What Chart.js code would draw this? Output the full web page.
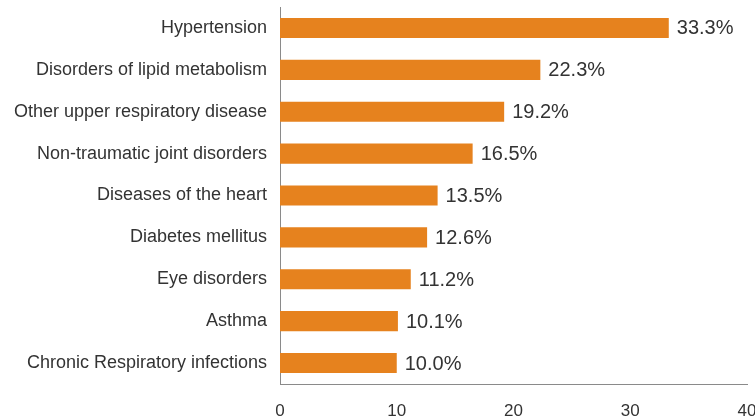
<!DOCTYPE html>
<html>
<head>
<meta charset="utf-8">
<script src="https://cdn.jsdelivr.net/npm/chart.js@4.4.1/dist/chart.umd.min.js"></script>
<style>
  html, body { margin: 0; padding: 0; background: #fff; overflow: hidden; }
  #wrap { width: 757px; height: 419px; }
</style>
</head>
<body>
<div id="wrap"><canvas id="chart" width="757" height="419"></canvas></div>
<script>
// conditions and their shares (%)
const categories = [
  'Hypertension',
  'Disorders of lipid metabolism',
  'Other upper respiratory disease',
  'Non-traumatic joint disorders',
  'Diseases of the heart',
  'Diabetes mellitus',
  'Eye disorders',
  'Asthma',
  'Chronic Respiratory infections'
];
const shares = [33.3, 22.3, 19.2, 16.5, 13.5, 12.6, 11.2, 10.1, 10.0];
const xTicks = [0, 10, 20, 30, 40];

const FONT = '"Liberation Sans", Arial, Helvetica, sans-serif';
const TEXT = '#333333';
const ORANGE = '#E6821E';

// draws "33.3%" next to every bar
const barLabels = {
  id: 'barLabels',
  afterDatasetsDraw(chart) {
    const ctx = chart.ctx;
    const meta = chart.getDatasetMeta(0);
    ctx.save();
    ctx.font = '20px ' + FONT;
    ctx.fillStyle = TEXT;
    ctx.textAlign = 'left';
    ctx.textBaseline = 'middle';
    meta.data.forEach((bar, i) => {
      ctx.fillText(shares[i].toFixed(1) + '%', bar.x + 8, bar.y + 1);
    });
    ctx.restore();
  }
};

new Chart(document.getElementById('chart'), {
  type: 'bar',
  data: {
    labels: categories,
    datasets: [{
      data: shares,
      backgroundColor: ORANGE,
      borderWidth: 0,
      barPercentage: 0.48,
      categoryPercentage: 1.0
    }]
  },
  options: {
    indexAxis: 'y',
    responsive: false,
    animation: false,
    layout: { padding: { top: 7, right: 10, left: 0, bottom: 0 } },
    plugins: {
      legend: { display: false },
      tooltip: { enabled: false }
    },
    scales: {
      x: {
        min: 0,
        max: 40,
        afterBuildTicks(scale) {
          scale.ticks = xTicks.map(v => ({ value: v }));
        },
        afterFit(scale) {
          scale.height = 35;
          scale.paddingLeft = 0;
          scale.paddingRight = 0;
        },
        grid: { display: false, drawTicks: false },
        border: { display: true, color: '#8a8a8a', width: 1 },
        ticks: {
          padding: 17,
          color: TEXT,
          font: { family: FONT, size: 17 },
          maxRotation: 0
        }
      },
      y: {
        afterFit(scale) {
          scale.width = 280;
          scale.paddingTop = 0;
          scale.paddingBottom = 0;
        },
        grid: { display: false, drawTicks: false },
        border: { display: true, color: '#8a8a8a', width: 1 },
        ticks: {
          padding: 13,
          color: TEXT,
          font: { family: FONT, size: 18 }
        }
      }
    }
  },
  plugins: [barLabels]
});
</script>
</body>
</html>
